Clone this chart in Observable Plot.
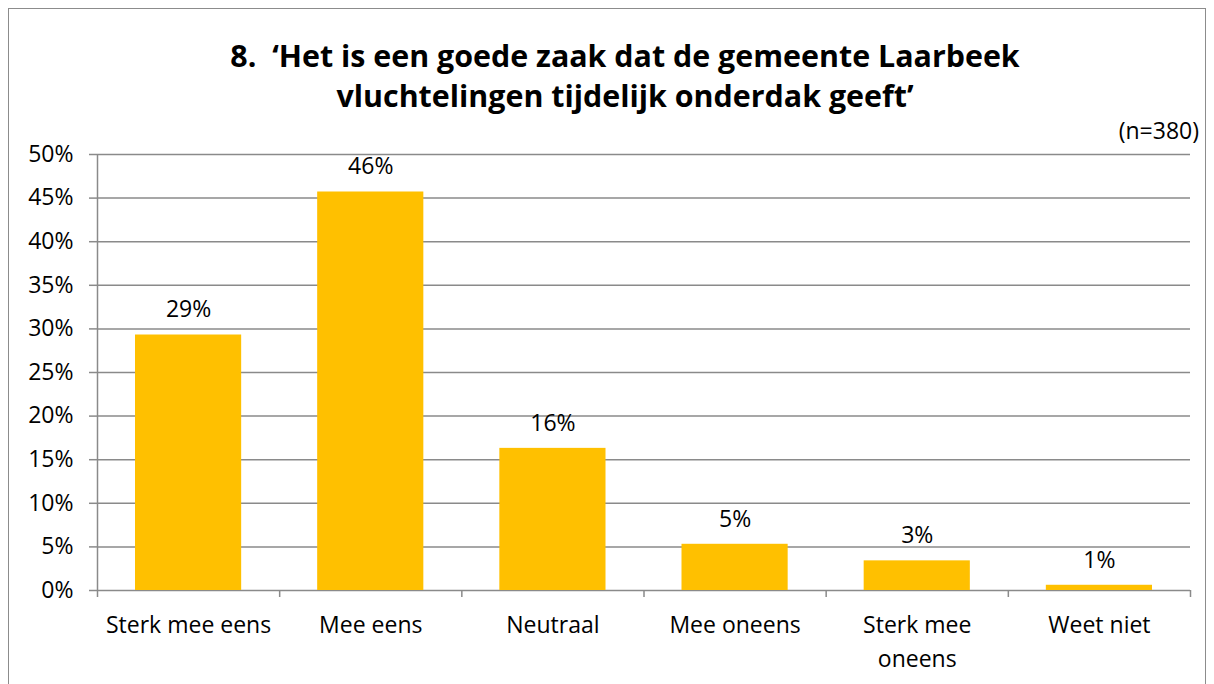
<!DOCTYPE html>
<html><head><meta charset="utf-8">
<script src="https://cdn.jsdelivr.net/npm/d3@7"></script>
<script src="https://cdn.jsdelivr.net/npm/@observablehq/plot@0.6"></script>
<style>
body{margin:0;background:#fff;overflow:hidden}
#wrap{position:relative;width:1214px;height:684px;font-family:"Open Sans", sans-serif;color:#000;overflow:hidden}
#frame{position:absolute;left:8px;top:8px;width:1196px;height:720px;border:1.5px solid #8c8c8c;}
#title{position:absolute;left:0;top:36px;width:1250px;text-align:center;font-weight:bold;font-size:30.4px;line-height:40px}
#n{position:absolute;right:15px;top:114px;font-size:23px}
#chart{position:absolute;left:0;top:0}
</style></head>
<body><div id="wrap"><div id="frame"></div><div id="chart"></div>
<div id="title">8.&nbsp; ‘Het is een goede zaak dat de gemeente Laarbeek<br>vluchtelingen tijdelijk onderdak geeft’</div>
<div id="n">(n=380)</div></div>
<script>
const categories = ["Sterk mee eens", "Mee eens", "Neutraal", "Mee oneens", "Sterk mee oneens", "Weet niet"];
const values = [29.3, 45.7, 16.3, 5.3, 3.4, 0.6];
const valueLabels = ["29%", "46%", "16%", "5%", "3%", "1%"];
const tickLabels = ["Sterk mee eens", "Mee eens", "Neutraal", "Mee oneens", "Sterk mee\noneens", "Weet niet"];
const yTicks = [0, 5, 10, 15, 20, 25, 30, 35, 40, 45, 50];

const data = categories.map((c, i) => ({i, c, v: values[i], label: valueLabels[i]}));
const bounds = d3.range(categories.length + 1);
const centers = categories.map((c, i) => i + 0.5);
const grid = "#8a8a8a";

const chart = Plot.plot({
  width: 1214,
  height: 684,
  marginTop: 154,
  marginBottom: 94,
  marginLeft: 97,
  marginRight: 24,
  style: {fontFamily: "'Open Sans', sans-serif", fontSize: "23px", color: "#000", background: "transparent"},
  x: {type: "linear", domain: [0, categories.length], axis: null, label: null},
  y: {domain: [0, 50], axis: null, label: null},
  marks: [
    Plot.ruleY(yTicks, {stroke: grid, strokeWidth: 1.5}),
    Plot.rectY(data, {x1: d => d.i, x2: d => d.i + 1, y: "v", fill: "#FFC000", insetLeft: 38, insetRight: 38}),
    Plot.ruleX([0], {y1: 0, y2: 50, stroke: grid, strokeWidth: 1.5}),
    Plot.axisY({ticks: yTicks, label: null, tickFormat: d => d + "%", tickSize: 8, tickPadding: 16, stroke: grid, strokeWidth: 1.5, fontSize: 23}),
    Plot.axisX({ticks: bounds, label: null, tickSize: 7, tickFormat: () => "", stroke: grid, strokeWidth: 1.5}),
    Plot.axisX({ticks: centers, label: null, tickSize: 0, tickPadding: 18, tickFormat: x => tickLabels[Math.round(x - 0.5)], fontSize: 23, lineHeight: 1.48}),
    Plot.text(data, {x: d => d.i + 0.5, y: "v", text: "label", dy: -25, fontSize: 23, fill: "#000"})
  ]
});
document.getElementById("chart").appendChild(chart);
</script>
</body></html>
